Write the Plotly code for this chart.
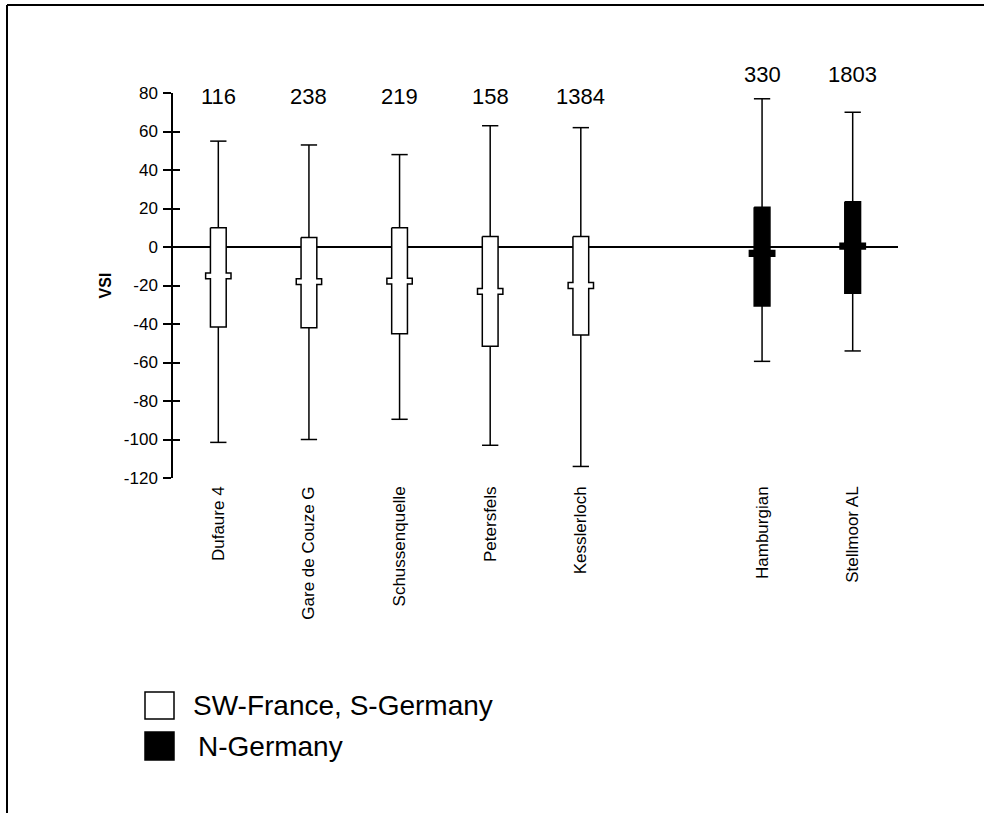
import plotly.graph_objects as go

# ---- data ----
sites = ["Dufaure 4", "Gare de Couze G", "Schussenquelle", "Petersfels", "Kesslerloch",
         "Hamburgian", "Stellmoor AL"]
positions = [0, 1, 2, 3, 4, 6, 7]
counts = ["116", "238", "219", "158", "1384", "330", "1803"]
group = ["SW", "SW", "SW", "SW", "SW", "N", "N"]
whisk_high = [55, 53, 48, 63, 62, 77, 70]
q3 = [10, 5, 10, 5.5, 5.5, 20.7, 23.5]
median = [-15, -18, -17.7, -23, -20, -3.3, 0.4]
q1 = [-41.5, -42, -45, -51.5, -45.7, -30.6, -24]
whisk_low = [-101.5, -100, -89.5, -103, -114, -59.4, -54]
yticks = [80, 60, 40, 20, 0, -20, -40, -60, -80, -100, -120]
ytick_text = [str(v) for v in yticks]

# ---- style ----
BOX_HW = 0.087
NOTCH_HW = 0.14
NOTCH_HH = 1.5
CAP_HW = 0.09
FONT = "Liberation Sans, Arial, sans-serif"
YMIN, YMAX = -120, 80

W, H = 984, 813
L, R, T, B = 173, 86, 93, 335


def px2paper(px, py):
    return (px - L) / (W - L - R), (H - B - py) / (H - T - B)


fig = go.Figure()

# whiskers with caps
for g in ["SW", "N"]:
    xs, ys = [], []
    for i in range(len(sites)):
        if group[i] != g:
            continue
        x = positions[i]
        xs += [x, x, None, x, x, None,
               x - CAP_HW, x + CAP_HW, None, x - CAP_HW, x + CAP_HW, None]
        ys += [q3[i], whisk_high[i], None, q1[i], whisk_low[i], None,
               whisk_high[i], whisk_high[i], None, whisk_low[i], whisk_low[i], None]
    fig.add_trace(go.Scatter(x=xs, y=ys, mode="lines", line=dict(color="black", width=1.5),
                             hoverinfo="skip", showlegend=False))

# boxes with stepped median notch
for i in range(len(sites)):
    x = positions[i]
    m = median[i]
    bx = [x - BOX_HW, x + BOX_HW, x + BOX_HW, x + NOTCH_HW, x + NOTCH_HW, x + BOX_HW,
          x + BOX_HW, x - BOX_HW, x - BOX_HW, x - NOTCH_HW, x - NOTCH_HW, x - BOX_HW,
          x - BOX_HW]
    by = [q3[i], q3[i], m + NOTCH_HH, m + NOTCH_HH, m - NOTCH_HH, m - NOTCH_HH,
          q1[i], q1[i], m - NOTCH_HH, m - NOTCH_HH, m + NOTCH_HH, m + NOTCH_HH,
          q3[i]]
    fill = "white" if group[i] == "SW" else "black"
    fig.add_trace(go.Scatter(x=bx, y=by, mode="lines", fill="toself", fillcolor=fill,
                             line=dict(color="black", width=1.5), name=sites[i],
                             hoverinfo="skip", showlegend=False))

# sample size labels (paper y so labels above the axis top are not hidden)
for i in range(len(sites)):
    yv = 78 if group[i] == "SW" else 89.5
    fig.add_annotation(x=positions[i], xref="x", yref="paper",
                       y=(yv - YMIN) / (YMAX - YMIN), text=counts[i],
                       showarrow=False, font=dict(size=22, color="black", family=FONT),
                       yanchor="middle", xanchor="center")

# dummy trace for the secondary (tick-mirror) axis
fig.add_trace(go.Scatter(x=[None], y=[None], yaxis="y2", showlegend=False, hoverinfo="skip"))

fig.update_layout(
    width=W, height=H,
    margin=dict(l=L, r=R, t=T, b=B, autoexpand=False),
    paper_bgcolor="white", plot_bgcolor="white",
    font=dict(family=FONT, color="black"),
    showlegend=False,
    xaxis=dict(range=[-0.5, 7.5], showgrid=False, zeroline=False, showline=False,
               tickmode="array", tickvals=positions, ticktext=sites, tickangle=-90,
               ticks="", tickfont=dict(size=17), ticklabelstandoff=4),
    yaxis=dict(range=[YMIN, YMAX], showgrid=False, zeroline=True, zerolinecolor="black",
               zerolinewidth=1.5, showline=True, linecolor="black", linewidth=1.5,
               tickmode="array", tickvals=yticks, ticktext=ytick_text, ticks="outside",
               ticklen=8, tickwidth=1.5, tickcolor="black", tickfont=dict(size=17),
               ticklabelstandoff=2,
               title=dict(text="<b>VSI</b>", font=dict(size=16), standoff=8)),
    yaxis2=dict(range=[YMIN, YMAX], overlaying="y", side="left", anchor="x",
                showgrid=False, zeroline=False, showline=False, showticklabels=False,
                tickmode="array", tickvals=yticks, ticks="inside", ticklen=7,
                tickwidth=1.5, tickcolor="black"),
)

# frame lines (left and top)
fx0, fy0 = px2paper(7, 5)
fx1, fy1 = px2paper(984, 813)
fig.add_shape(type="line", xref="paper", yref="paper", x0=fx0, x1=fx0, y0=fy0, y1=fy1,
              line=dict(color="black", width=2))
fig.add_shape(type="line", xref="paper", yref="paper", x0=fx0, x1=fx1, y0=fy0, y1=fy0,
              line=dict(color="black", width=2))

# manual legend
legend_items = [("SW-France, S-Germany", "white", 692, 719, 191),
                ("N-Germany", "black", 732, 760, 196)]
for label, col, ytop, ybot, tx in legend_items:
    x0, y0 = px2paper(145, ytop)
    x1, y1 = px2paper(174, ybot)
    fig.add_shape(type="rect", xref="paper", yref="paper", x0=x0, x1=x1, y0=y1, y1=y0,
                  fillcolor=col, line=dict(color="black", width=1.5))
    ax, ay = px2paper(tx, (ytop + ybot) / 2)
    fig.add_annotation(xref="paper", yref="paper", x=ax, y=ay, text=label, showarrow=False,
                       xanchor="left", yanchor="middle",
                       font=dict(size=28, color="black", family=FONT))

fig.write_html("out.html", config={"displayModeBar": False},
               post_script="document.body.style.margin='0';document.body.style.overflow='hidden';")
